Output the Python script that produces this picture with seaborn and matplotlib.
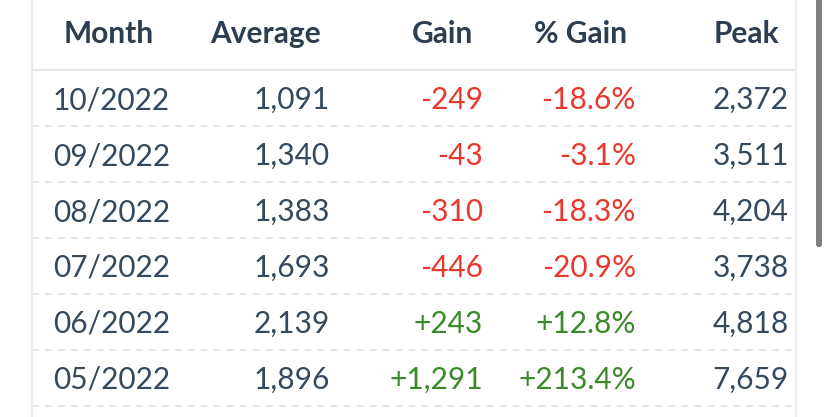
import numpy as np
import pandas as pd
import matplotlib.pyplot as plt
import seaborn as sns
from matplotlib.patches import FancyBboxPatch

# table data
months = ['10/2022', '09/2022', '08/2022', '07/2022', '06/2022', '05/2022']
average = [1091, 1340, 1383, 1693, 2139, 1896]
gain = [-249, -43, -310, -446, 243, 1291]
pct_gain = [-18.6, -3.1, -18.3, -20.9, 12.8, 213.4]
peak = [2372, 3511, 4204, 3738, 4818, 7659]
headers = ['Month', 'Average', 'Gain', '% Gain', 'Peak']

df = pd.DataFrame({'Month': months, 'Average': average, 'Gain': gain,
                   '% Gain': pct_gain, 'Peak': peak})

sns.set_theme(style='white')
plt.rcParams['font.family'] = ['Lato', 'DejaVu Sans']

W, H = 828, 417
fig = plt.figure(figsize=(W / 100, H / 100), dpi=100)
ax = fig.add_axes([0, 0, 1, 1])
ax.set_xlim(0, W)
ax.set_ylim(H, 0)
ax.axis('off')

dark = '#34495e'
head_col = '#2c3e50'
red = '#e8382d'
green = '#3b8a2a'

row_h = 56
base0 = 109      # baseline of first data row
head_base = 43   # baseline of header
left, right = 32, 796

# header position: (x, ha)
head_pos = [(64, 'left'), (321, 'right'), (473, 'right'), (627, 'right'), (779, 'right')]
for (x, ha), h in zip(head_pos, headers):
    ax.text(x, head_base, h, ha=ha, va='baseline', fontsize=21.5,
            fontweight='bold', color=head_col)

# header bottom line
ax.plot([left, right], [70, 70], color='#e4e8eb', lw=1.6, solid_capstyle='butt')

fs = 21.5
for i, r in df.iterrows():
    y = base0 + row_h * i
    gcol = green if r['Gain'] > 0 else red
    ax.text(53, y, r['Month'], ha='left', va='baseline', fontsize=fs, color=dark)
    ax.text(330, y, f"{r['Average']:,}", ha='right', va='baseline', fontsize=fs, color=dark)
    ax.text(483, y, f"{r['Gain']:+,}", ha='right', va='baseline', fontsize=fs, color=gcol)
    ax.text(636, y, f"{r['% Gain']:+.1f}%", ha='right', va='baseline', fontsize=fs, color=gcol)
    ax.text(789, y, f"{r['Peak']:,}", ha='right', va='baseline', fontsize=fs, color=dark)
    ly = 126 + row_h * i
    ax.plot([left, right], [ly, ly], color='#dcdfe2', lw=1.1,
            linestyle=(0, (4.5, 4)), solid_capstyle='butt')

# table borders
ax.plot([left, left], [0, H], color='#e6eaec', lw=1.6)
ax.plot([right, right], [0, H], color='#eceeef', lw=1.4)

# scrollbar
ax.add_patch(FancyBboxPatch((816, -10), 6, 257, boxstyle='round,pad=0,rounding_size=2.5',
                            facecolor='#808080', edgecolor='none'))

fig.savefig('out.png', dpi=100)
